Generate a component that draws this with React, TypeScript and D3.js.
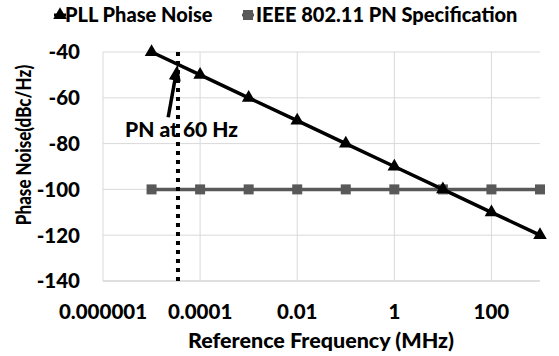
import React from "react";
import * as d3 from "d3";

const pllFreq = [1e-5, 1e-4, 1e-3, 1e-2, 1e-1, 1, 10, 100, 1000];
const pllNoise = [-40, -50, -60, -70, -80, -90, -100, -110, -120];
const specFreq = [1e-5, 1e-4, 1e-3, 1e-2, 1e-1, 1, 10, 100, 1000];
const specNoise = [-100, -100, -100, -100, -100, -100, -100, -100, -100];
const xTicks = [1e-6, 1e-4, 1e-2, 1, 100];
const xTickLabels = ["0.000001", "0.0001", "0.01", "1", "100"];
const yTicks = [-40, -60, -80, -100, -120, -140];
const markerFreq = 3.5e-5; // dotted line "PN at 60 Hz"
const arrowFrom = { f: 2.2e-5, v: -68.5 };
const arrowTo = { f: 3.45e-5, v: -45.5 };

const W = 559;
const H = 356;
const FONT = "Lato, 'Open Sans', sans-serif";

export default function App() {
  const x = d3.scaleLog().domain([1e-6, 1000]).range([103, 540]);
  const y = d3.scaleLinear().domain([-140, -40]).range([281, 52]);
  const line = d3
    .line<[number, number]>()
    .x((d) => x(d[0]))
    .y((d) => y(d[1]));
  const pll: [number, number][] = pllFreq.map((f, i) => [f, pllNoise[i]]);
  const spec: [number, number][] = specFreq.map((f, i) => [f, specNoise[i]]);
  const tri = d3.symbol().type(d3.symbolTriangle).size(80)()!;
  const sq = 10;

  const ax0 = x(arrowFrom.f), ay0 = y(arrowFrom.v);
  const ax1 = x(arrowTo.f), ay1 = y(arrowTo.v);
  const ang = (Math.atan2(ay1 - ay0, ax1 - ax0) * 180) / Math.PI;
  const headLen = 15;
  const len = Math.hypot(ax1 - ax0, ay1 - ay0);
  const bx = ax1 - ((ax1 - ax0) / len) * headLen;
  const by = ay1 - ((ay1 - ay0) / len) * headLen;

  return (
    <svg width={W} height={H} style={{ position: "absolute", left: 0, top: 0 }} fontFamily={FONT} fontWeight={900}>
      <rect width={W} height={H} fill="#fff" />
      {/* gridlines */}
      {yTicks.map((t) => (
        <line key={"gy" + t} x1={x(1e-6)} x2={x(1000)} y1={y(t)} y2={y(t)} stroke={t === -140 ? "#bfbfbf" : "#d9d9d9"} strokeWidth={1} />
      ))}
      {xTicks.map((t) => (
        <line key={"gx" + t} x1={x(t)} x2={x(t)} y1={y(-40)} y2={y(-140)} stroke="#d9d9d9" strokeWidth={1} />
      ))}
      {/* y tick labels */}
      {yTicks.map((t) => (
        <text key={"yl" + t} x={80} y={y(t)} dy="0.36em" textAnchor="end" fontSize={20.5} fill="#000">
          {t}
        </text>
      ))}
      {/* x tick labels */}
      {xTicks.map((t, i) => (
        <text key={"xl" + t} x={x(t)} y={319} textAnchor="middle" fontSize={20.5} fill="#000">
          {xTickLabels[i]}
        </text>
      ))}
      <text x={321} y={348} textAnchor="middle" fontSize={21.5} fill="#000">
        Reference Frequency (MHz)
      </text>
      <text transform={`translate(31,145) rotate(-90) scale(0.83,1)`} textAnchor="middle" fontSize={20.5} fill="#000">
        Phase Noise(dBc/Hz)
      </text>
      {/* spec series */}
      <path d={line(spec)!} fill="none" stroke="#595959" strokeWidth={3.5} />
      {spec.map((d, i) => (
        <rect key={"sq" + i} x={x(d[0]) - sq / 2} y={y(d[1]) - sq / 2} width={sq} height={sq} fill="#595959" />
      ))}
      {/* dotted line */}
      <line x1={x(markerFreq)} x2={x(markerFreq)} y1={y(-40)} y2={y(-140)} stroke="#000" strokeWidth={4} strokeDasharray="4 5" />
      {/* PLL series */}
      <path d={line(pll)!} fill="none" stroke="#000" strokeWidth={3.5} />
      {pll.map((d, i) => (
        <path key={"tr" + i} d={tri} transform={`translate(${x(d[0])},${y(d[1])})`} fill="#000" />
      ))}
      {/* annotation */}
      <line x1={ax0} y1={ay0} x2={bx} y2={by} stroke="#000" strokeWidth={3.5} />
      <path d="M0,0 L-16,-6 L-16,6 Z" transform={`translate(${ax1},${ay1}) rotate(${ang})`} fill="#000" />
      <text x={125} y={137} fontSize={21} fill="#000">
        PN at 60 Hz
      </text>
      {/* legend */}
      <g transform="translate(60,15)">
        <line x1={-6} x2={6} y1={0} y2={0} stroke="#000" strokeWidth={3} />
        <path d={tri} fill="#000" />
        <text x={5} y={0} dy="0.36em" fontSize={20} fill="#000">
          PLL Phase Noise
        </text>
      </g>
      <g transform="translate(248,15)">
        <line x1={-6} x2={6} y1={0} y2={0} stroke="#595959" strokeWidth={3} />
        <rect x={-sq / 2} y={-sq / 2} width={sq} height={sq} fill="#595959" />
        <text x={8} y={0} dy="0.36em" fontSize={20} fill="#000">
          IEEE 802.11 PN Specification
        </text>
      </g>
    </svg>
  );
}
